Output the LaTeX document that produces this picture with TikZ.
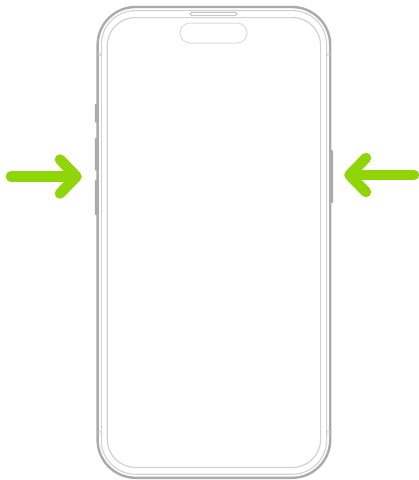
\documentclass[tikz,border=0pt]{standalone}
\definecolor{arrowgreen}{HTML}{90D507}
\definecolor{framedark}{HTML}{ABABAB}
\definecolor{framemid}{HTML}{D2D2D2}
\definecolor{framelight}{HTML}{DCDCDC}
\tikzset{
  pusharrow/.style={draw=arrowgreen,line width=10.5pt,line cap=round,line join=round},
  sidebutton/.style={fill=framedark,draw=none,rounded corners=0.8pt},
}
\begin{document}
\begin{tikzpicture}[x=1pt,y=-1pt]
\useasboundingbox (0,0) rectangle (419,480);
% side buttons
\fill[sidebutton] (94.8,104) rectangle (98,122.5);
\fill[sidebutton] (94.8,138) rectangle (98,170.5);
\fill[sidebutton] (94.8,180) rectangle (98,215);
\fill[sidebutton] (329,150) rectangle (333,203);
% frame
\draw[framedark,line width=2.4pt,rounded corners=38pt,fill=white] (97.6,7) rectangle (330.2,477.8);
\draw[framemid,line width=1.1pt,rounded corners=34pt] (101.3,10.6) rectangle (326.6,474.2);
\draw[framemid,line width=1.2pt,rounded corners=28pt] (107.3,17.6) rectangle (320.6,467.4);
% antenna ticks
\foreach \yy in {53,55,431,433}{
  \draw[framemid,line width=0.5pt] (98,\yy) -- (101,\yy);
  \draw[framemid,line width=0.5pt] (327,\yy) -- (330,\yy);
}
% speaker and island
\draw[framedark,line width=0.7pt,fill=white,rounded corners=1.6pt] (190,12.2) rectangle (237,15.6);
\draw[framelight,line width=1pt,rounded corners=10pt] (180,23) rectangle (247,43);
% arrows
\draw[pusharrow] (11,176.5) -- (76,176.5);
\draw[pusharrow] (60,159.5) -- (76.5,176.5) -- (60,193.5);
\draw[pusharrow] (414,175) -- (350,175);
\draw[pusharrow] (366,158) -- (349.5,175) -- (366,192);
\end{tikzpicture}
\end{document}
